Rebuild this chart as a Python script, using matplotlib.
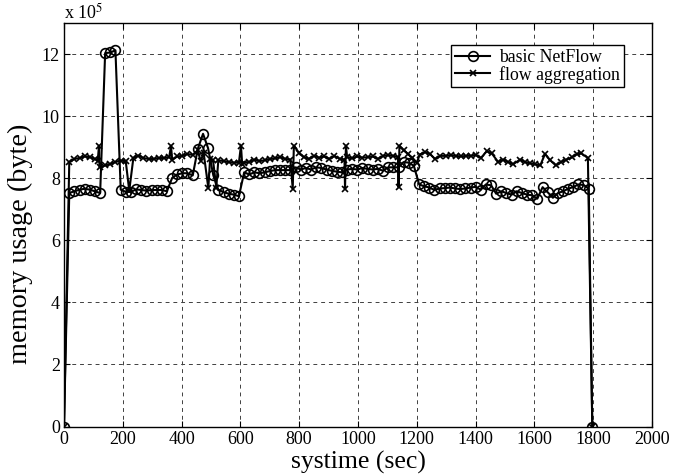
import matplotlib
matplotlib.use("Agg")
import matplotlib.pyplot as plt

plt.rcParams['font.family'] = ['Liberation Serif', 'DejaVu Serif']
plt.rcParams['mathtext.fontset'] = 'stix'

# time (sec) and memory usage (x 10^5 byte)
basic_t = [0, 18, 35, 53, 70, 88, 105, 123, 140, 158, 175, 193, 210, 228, 245, 263, 280, 298,
           315, 333, 350, 368, 385, 403, 420, 438, 455, 473, 490, 508, 525, 543, 560, 578, 595,
           613, 630, 648, 665, 683, 700, 718, 735, 753, 770, 788, 805, 823, 840, 858, 875, 893,
           910, 928, 945, 963, 980, 998, 1015, 1033, 1050, 1068, 1085, 1103, 1120, 1138, 1155,
           1173, 1190, 1208, 1225, 1243, 1260, 1278, 1295, 1313, 1330, 1348, 1365, 1383, 1400,
           1418, 1435, 1453, 1470, 1488, 1505, 1523, 1540, 1558, 1575, 1593, 1610, 1628, 1645,
           1663, 1680, 1698, 1715, 1733, 1750, 1768, 1785, 1797]
basic_v = [0,
           7.52, 7.58, 7.63, 7.66, 7.63, 7.58, 7.52,
           12.03, 12.05, 12.12,
           7.63, 7.56, 7.56, 7.64, 7.62, 7.60, 7.62, 7.62, 7.62, 7.58,
           8.01, 8.12, 8.16, 8.16, 8.09,
           8.94, 9.43, 8.97, 8.09,
           7.63, 7.55, 7.50, 7.47, 7.42,
           8.19, 8.12, 8.19, 8.16, 8.19, 8.23, 8.26, 8.26, 8.26, 8.26,
           8.35, 8.28, 8.33, 8.28, 8.35, 8.33, 8.28, 8.24, 8.21, 8.19,
           8.28, 8.30, 8.28, 8.33, 8.30, 8.28, 8.30, 8.24, 8.35, 8.35,
           8.35, 8.52, 8.50, 8.40,
           7.80, 7.74, 7.70, 7.62, 7.67, 7.68, 7.70, 7.67, 7.65, 7.67,
           7.70, 7.72, 7.63, 7.80, 7.77, 7.50, 7.58, 7.52, 7.47, 7.58,
           7.52, 7.47, 7.45, 7.34, 7.71, 7.55, 7.37, 7.52, 7.58, 7.66,
           7.72, 7.80, 7.78, 7.66,
           0]

agg_t = [0, 18, 35, 53, 70, 88, 105, 115, 119, 121,
         140, 158, 175, 193, 210, 222, 236, 253, 270,
         288, 305, 322, 340, 358, 364, 368, 385, 403,
         420, 438, 455, 465, 475, 491, 497, 507, 518,
         525, 543, 560, 578, 595, 602, 606, 613, 630,
         648, 665, 683, 700, 718, 735, 753, 770, 778,
         782, 799, 815, 833, 850, 868, 885, 903, 920,
         938, 954, 956, 959, 963, 980, 998, 1015, 1033,
         1050, 1068, 1085, 1103, 1120, 1136, 1138, 1141,
         1155, 1170, 1185, 1200, 1210, 1228, 1245, 1262,
         1280, 1298, 1315, 1333, 1350, 1368, 1385, 1400,
         1418, 1438, 1455, 1477, 1494, 1511, 1528, 1551,
         1568, 1585, 1602, 1620, 1636, 1653, 1673, 1690,
         1707, 1727, 1745, 1760, 1782, 1797]
agg_v = [0, 8.52, 8.62, 8.65, 8.70, 8.68, 8.62, 8.57, 9.05, 8.35,
         8.41, 8.46, 8.52, 8.57, 8.55, 7.60, 8.65, 8.73, 8.65,
         8.62, 8.62, 8.65, 8.65, 8.68, 9.05, 8.59, 8.70, 8.72,
         8.78, 8.75, 8.90, 8.55, 8.82, 7.68, 8.62, 8.58, 7.70,
         8.58, 8.55, 8.52, 8.50, 8.50, 9.05, 8.46, 8.50, 8.52,
         8.60, 8.55, 8.58, 8.62, 8.64, 8.68, 8.62, 8.60, 7.66,
         9.05, 8.82, 8.68, 8.62, 8.72, 8.66, 8.70, 8.62, 8.72,
         8.62, 8.60, 7.66, 9.05, 8.68, 8.64, 8.70, 8.66, 8.68,
         8.70, 8.62, 8.72, 8.74, 8.72, 8.68, 7.71, 9.05,
         8.90, 8.78, 8.66, 8.50, 8.76, 8.84, 8.78, 8.62,
         8.72, 8.72, 8.74, 8.72, 8.70, 8.72, 8.72, 8.75,
         8.65, 8.87, 8.80, 8.52, 8.60, 8.52, 8.45, 8.60,
         8.52, 8.48, 8.45, 8.41, 8.78, 8.59, 8.41, 8.52,
         8.59, 8.67, 8.78, 8.80, 8.65, 0]

x_ticks = [0, 200, 400, 600, 800, 1000, 1200, 1400, 1600, 1800, 2000]
y_ticks = [0, 2, 4, 6, 8, 10, 12]

fig = plt.figure(figsize=(6.85, 4.75), dpi=100)
ax = fig.add_axes([0.0934, 0.102, 0.8584, 0.8496])

ax.plot(basic_t, basic_v, color='black', lw=1.5, marker='o', ms=7,
        mfc='none', mec='black', mew=1.2, label='basic NetFlow')
ax.plot(agg_t, agg_v, color='black', lw=1.5, marker='x', ms=5,
        mew=1.2, label='flow aggregation')

ax.set_xlim(0, 2000)
ax.set_ylim(0, 13)
ax.set_xticks(x_ticks)
ax.set_yticks(y_ticks)
ax.set_xticklabels([str(v) for v in x_ticks])
ax.set_yticklabels([str(v) for v in y_ticks])
ax.tick_params(direction='in', top=True, right=True, labelsize=13, length=4, pad=3)
ax.grid(True, color='0.25', linestyle=(0, (4, 4)), linewidth=0.7)
for s in ax.spines.values():
    s.set_linewidth(1.0)

ax.set_xlabel('systime (sec)', fontsize=18.5, labelpad=2)
ax.set_ylabel('memory usage (byte)', fontsize=20.3)
ax.yaxis.set_label_coords(-0.052, 0.452)
fig.text(0.0934, 1 - 19 / 475, r'x 10$^5$', fontsize=13, ha='left', va='baseline')

leg = ax.legend(loc='upper right', bbox_to_anchor=(0.952, 0.945), borderaxespad=0,
                fontsize=12.8, frameon=True, fancybox=False, edgecolor='black',
                framealpha=1, handlelength=2.0, borderpad=0.2, labelspacing=0.0,
                handletextpad=0.5)
leg.get_frame().set_linewidth(1.0)

fig.savefig('out.png', dpi=100)
